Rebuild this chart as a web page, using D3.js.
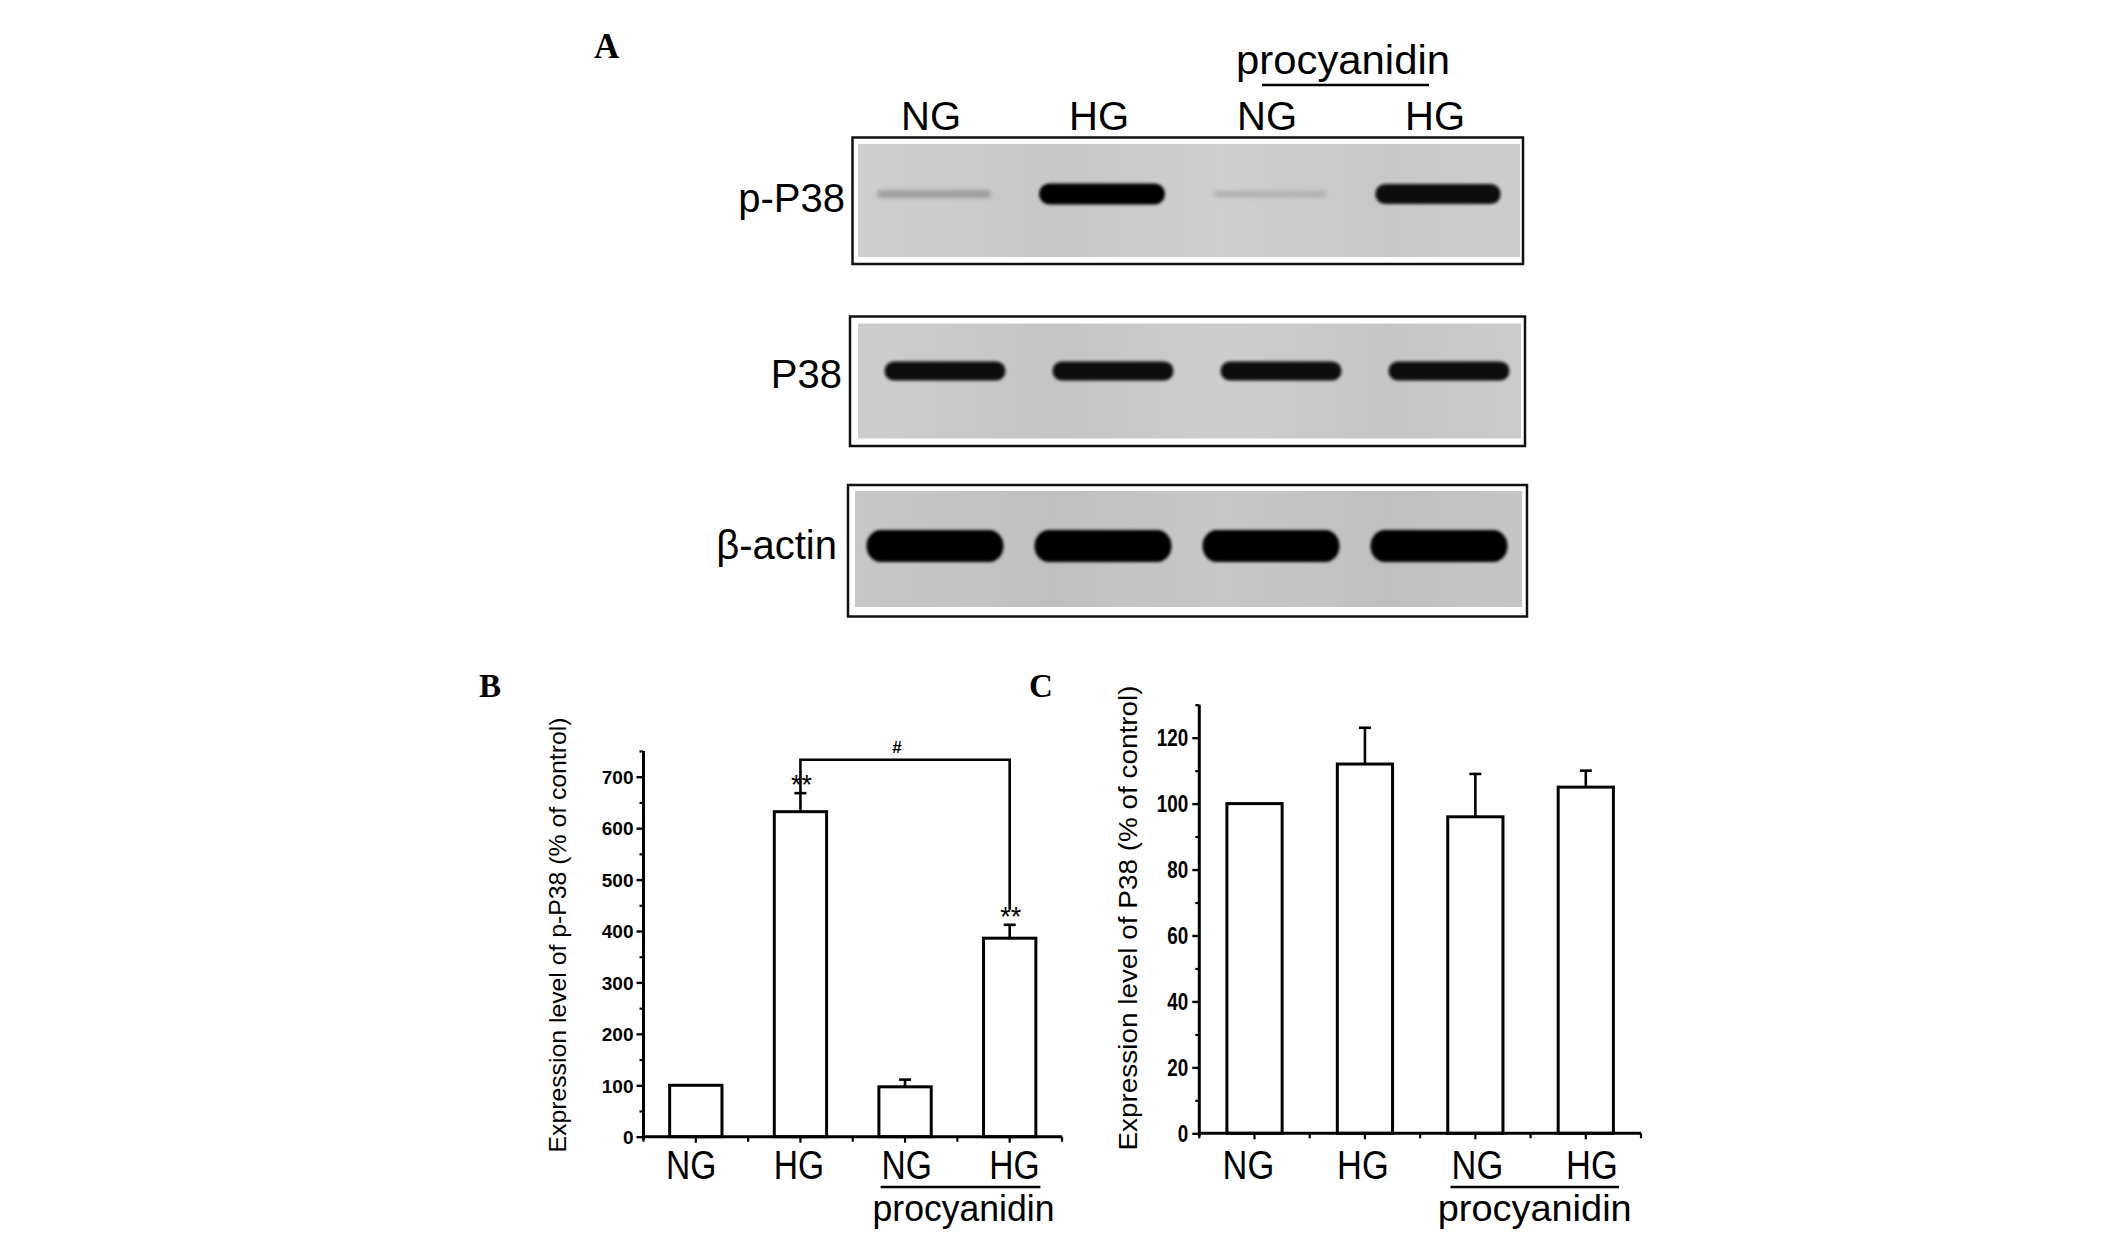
<!DOCTYPE html>
<html><head><meta charset="utf-8">
<script src="https://cdn.jsdelivr.net/npm/d3@7"></script>
<style>body{margin:0;background:#fff}svg{display:block}</style>
</head><body>
<svg id="fig" width="2126" height="1241"></svg>
<script>
// ---------------- data ----------------
const groups = ["NG", "HG", "NG", "HG"];
const treatmentLabel = "procyanidin";
const treatedGroups = [2, 3];
const blotRows = ["p-P38", "P38", "β-actin"];
const bandPP38 = [0.22, 1.0, 0.13, 0.95];
const bandP38 = [0.95, 0.95, 0.95, 0.95];
const bandActin = [1.0, 1.0, 1.0, 1.0];
const pP38Means = [100, 632, 97, 386];
const pP38Errors = [0, 36, 14, 26];
const pP38Stars = ["", "**", "", "**"];
const pP38Ticks = [0, 100, 200, 300, 400, 500, 600, 700];
const pP38Max = 750;
const pP38Compare = { from: 1, to: 3, level: 733, label: "#" };
const p38Means = [100, 112, 96, 105];
const p38Errors = [0, 11, 13, 5];
const p38Ticks = [0, 20, 40, 60, 80, 100, 120];
const p38Max = 130;
const titleB = "Expression level of p-P38  (% of control)";
const titleC = "Expression level of P38  (% of control)";

// ---------------- setup ----------------
const svg = d3.select("#fig");
const SANS = "'Liberation Sans', Arial, Helvetica, sans-serif";
const SERIF = "'Liberation Serif', 'Times New Roman', serif";
const defs = svg.append("defs");
defs.append("filter").attr("id", "blur").attr("x", "-10%").attr("y", "-60%").attr("width", "120%").attr("height", "220%")
  .append("feGaussianBlur").attr("stdDeviation", 1.4);
defs.append("filter").attr("id", "blur2").attr("x", "-10%").attr("y", "-80%").attr("width", "120%").attr("height", "260%")
  .append("feGaussianBlur").attr("stdDeviation", 2.2);

function panelLetter(t, x, y, size) {
  svg.append("text").attr("x", x).attr("y", y).text(t)
    .attr("font-family", SERIF).attr("font-weight", "bold").attr("font-size", size).attr("fill", "#000");
}
panelLetter("A", 594, 58, 35);
panelLetter("B", 479, 697, 33);
panelLetter("C", 1029, 697, 33);

// ---------------- panel A: western blots ----------------
const laneX = d3.scalePoint().domain(d3.range(groups.length)).range([937, 1441]);

const gA = svg.append("g");
gA.selectAll("text.lane").data(groups).join("text").attr("class", "lane")
  .attr("x", (d, i) => laneX(i) - 6).attr("y", 130)
  .attr("text-anchor", "middle").attr("font-family", SANS).attr("font-size", 40).text(d => d);
gA.append("text").attr("x", 1343).attr("y", 74).attr("text-anchor", "middle")
  .attr("font-family", SANS).attr("font-size", 41).attr("textLength", 214).attr("lengthAdjust", "spacingAndGlyphs")
  .text(treatmentLabel);
gA.append("line").attr("x1", 1262).attr("x2", 1429).attr("y1", 85).attr("y2", 85)
  .attr("stroke", "#000").attr("stroke-width", 2.5);

const blotLayout = [
  { outer: [852.5, 137.5, 1523, 264], inner: [858, 144, 1520, 257], bg: "#cbcbcb", y: 194, w: 126, thick: 21, dx: -3, label: [845, 212], values: bandPP38, thin: true },
  { outer: [850, 316.5, 1525, 446], inner: [858, 323.5, 1521, 438.5], bg: "#c9c9c9", y: 371, w: 121, thick: 19, dx: 8, label: [842, 388], values: bandP38, thin: false },
  { outer: [848, 485, 1527, 616.5], inner: [855, 491, 1522, 607], bg: "#c3c3c3", y: 546, w: 137, thick: 32, dx: -2, label: [837, 559], values: bandActin, thin: false }
];

blotLayout.forEach((b, r) => {
  const g = gA.append("g");
  g.append("rect").attr("x", b.outer[0]).attr("y", b.outer[1])
    .attr("width", b.outer[2] - b.outer[0]).attr("height", b.outer[3] - b.outer[1])
    .attr("fill", "#fff").attr("stroke", "#111").attr("stroke-width", 2.5);
  const gid = "bg" + r;
  const lg = defs.append("linearGradient").attr("id", gid).attr("x1", 0).attr("x2", 1).attr("y1", 0).attr("y2", 0);
  const base = d3.color(b.bg);
  [[0, 0.01], [0.3, -0.01], [0.55, 0.01], [0.8, -0.008], [1, 0.005]].forEach(([o, k]) => {
    lg.append("stop").attr("offset", o).attr("stop-color", k > 0 ? base.brighter(k * 5) : base.darker(-k * 5));
  });
  g.append("rect").attr("x", b.inner[0]).attr("y", b.inner[1])
    .attr("width", b.inner[2] - b.inner[0]).attr("height", b.inner[3] - b.inner[1])
    .attr("fill", `url(#${gid})`);
  const shade = d3.interpolateRgb(b.bg, "#000");
  g.selectAll("rect.band").data(b.values).join("rect").attr("class", "band")
    .each(function (v, i) {
      const t = b.thin ? b.thick * (0.2 + 0.8 * v) : b.thick;
      const w = b.thin ? b.w * (0.88 + 0.12 * v) : b.w;
      d3.select(this).attr("x", laneX(i) + b.dx - w / 2).attr("y", b.y - t / 2)
        .attr("width", w).attr("height", t).attr("rx", Math.min(t / 2, 14)).attr("ry", t / 2)
        .attr("fill", shade(v)).attr("filter", v > 0.5 ? "url(#blur)" : "url(#blur2)");
    });
  g.append("text").attr("x", b.label[0]).attr("y", b.label[1]).attr("text-anchor", "end")
    .attr("font-family", SANS).attr("font-size", 40).text(blotRows[r]);
});

// ---------------- bar panels ----------------
function barPanel(o) {
  const g = svg.append("g");
  const x = d3.scaleBand().domain(d3.range(groups.length)).range([o.x0, o.x1]).paddingInner(0).paddingOuter(0);
  const y = d3.scaleLinear().domain([0, o.max]).range([o.yb, o.yt]);
  const barW = x.bandwidth() * 0.5;
  const cx = i => x(i) + x.bandwidth() / 2;

  g.selectAll("rect.bar").data(o.means).join("rect").attr("class", "bar")
    .attr("x", (d, i) => cx(i) - barW / 2).attr("y", d => y(d))
    .attr("width", barW).attr("height", d => y(0) - y(d))
    .attr("fill", "#fff").attr("stroke", "#000").attr("stroke-width", 3);

  o.means.forEach((m, i) => {
    const e = o.errors[i];
    if (!e) return;
    g.append("line").attr("x1", cx(i)).attr("x2", cx(i)).attr("y1", y(m)).attr("y2", y(m + e))
      .attr("stroke", "#000").attr("stroke-width", 2.6);
    g.append("line").attr("x1", cx(i) - 6).attr("x2", cx(i) + 6).attr("y1", y(m + e)).attr("y2", y(m + e))
      .attr("stroke", "#000").attr("stroke-width", 2.6);
  });

  const yAxis = d3.axisLeft(y).tickValues(o.ticks).tickSize(7).tickSizeOuter(0).tickFormat(d3.format("d"));
  const ya = g.append("g").attr("transform", `translate(${o.x0},0)`).call(yAxis);
  ya.select(".domain").remove();
  ya.selectAll("line").attr("stroke", "#000").attr("stroke-width", 2.4);
  ya.selectAll("text").attr("x", null).attr("dy", null)
    .attr("transform", `translate(${-o.labelGap},${o.tickFont * 0.36}) scale(${o.tickSX},1)`)
    .attr("font-family", SANS).attr("font-weight", "bold").attr("font-size", o.tickFont).attr("fill", "#000");
  const minor = d3.range(o.minorStep, o.max + 0.001, o.minorStep).filter(v => !o.ticks.includes(v));
  const ym = g.append("g").attr("transform", `translate(${o.x0},0)`)
    .call(d3.axisLeft(y).tickValues(minor).tickSize(4).tickSizeOuter(0).tickFormat(""));
  ym.select(".domain").remove();
  ym.selectAll("line").attr("stroke", "#000").attr("stroke-width", 2.2);
  g.append("line").attr("x1", o.x0).attr("x2", o.x0).attr("y1", y(o.max)).attr("y2", y(0) + 3)
    .attr("stroke", "#000").attr("stroke-width", 3);

  const xa = g.append("g").attr("transform", `translate(0,${y(0)})`)
    .call(d3.axisBottom(x).tickSize(6).tickSizeOuter(0).tickFormat(""));
  xa.select(".domain").remove();
  xa.selectAll("line").attr("stroke", "#000").attr("stroke-width", 2.2);
  const bounds = d3.range(groups.length + 1).map(i => o.x0 + i * x.step());
  g.selectAll("line.minorx").data(bounds).join("line").attr("class", "minorx")
    .attr("x1", d => d).attr("x2", d => d).attr("y1", y(0)).attr("y2", y(0) + 5)
    .attr("stroke", "#000").attr("stroke-width", 2.2);
  g.append("line").attr("x1", o.x0).attr("x2", o.x1).attr("y1", y(0)).attr("y2", y(0))
    .attr("stroke", "#000").attr("stroke-width", 3);

  const mid = (o.x0 + o.x1) / 2;
  const lx = i => mid + (cx(i) - mid) * o.labelSpread;
  g.selectAll("text.cat").data(groups).join("text").attr("class", "cat")
    .attr("transform", (d, i) => `translate(${lx(i)},${o.catBase}) scale(0.84,1)`)
    .attr("text-anchor", "middle").attr("font-family", SANS).attr("font-size", o.catFont).text(d => d);
  const ux0 = lx(treatedGroups[0]) - o.underHalf, ux1 = lx(treatedGroups[treatedGroups.length - 1]) + o.underHalf;
  g.append("line").attr("x1", ux0).attr("x2", ux1).attr("y1", o.catBase + 8).attr("y2", o.catBase + 8)
    .attr("stroke", "#000").attr("stroke-width", 2.5);
  g.append("text").attr("x", (ux0 + ux1) / 2 + o.procDx).attr("y", o.catBase + 42)
    .attr("text-anchor", "middle").attr("font-family", SANS).attr("font-size", o.procFont)
    .attr("textLength", o.procLen).attr("lengthAdjust", "spacingAndGlyphs").text(treatmentLabel);

  g.append("text").attr("transform", `translate(${o.titleX},${o.titleMid}) rotate(-90)`)
    .attr("text-anchor", "middle").attr("font-family", SANS).attr("font-size", o.titleFont)
    .attr("textLength", o.titleLen).attr("lengthAdjust", "spacingAndGlyphs").text(o.title);

  return { g, x, y, cx };
}

const B = barPanel({
  x0: 643.5, x1: 1062, yb: 1136.7, yt: 751, max: pP38Max, means: pP38Means, errors: pP38Errors,
  ticks: pP38Ticks, minorStep: 50, tickFont: 19, tickSX: 1, labelGap: 10,
  catBase: 1179, catFont: 40, labelSpread: 1.03, underHalf: 26, procFont: 37, procLen: 182, procDx: 3,
  title: titleB, titleX: 566, titleMid: 935, titleFont: 24, titleLen: 435
});
const C = barPanel({
  x0: 1199.3, x1: 1641, yb: 1133.3, yt: 704.7, max: p38Max, means: p38Means, errors: p38Errors,
  ticks: p38Ticks, minorStep: 10, tickFont: 23, tickSX: 0.82, labelGap: 11,
  catBase: 1179, catFont: 41, labelSpread: 1.037, underHalf: 27, procFont: 37, procLen: 194, procDx: 0,
  title: titleC, titleX: 1137, titleMid: 918, titleFont: 25, titleLen: 465
});

pP38Stars.forEach((s, i) => {
  if (!s) return;
  B.g.append("text").attr("x", B.cx(i) + 1).attr("y", B.y(pP38Means[i] + pP38Errors[i]) + 1)
    .attr("text-anchor", "middle").attr("font-family", SANS).attr("font-size", 27).text(s);
});
const cmpY = B.y(pP38Compare.level);
const fx = B.cx(pP38Compare.from), tx = B.cx(pP38Compare.to);
const leftEnd = B.y(pP38Means[pP38Compare.from] + pP38Errors[pP38Compare.from]);
const rightEnd = B.y(pP38Means[pP38Compare.to] + pP38Errors[pP38Compare.to]) - 15;
B.g.append("path").attr("d", `M${fx},${leftEnd}V${cmpY}H${tx}V${rightEnd}`)
  .attr("fill", "none").attr("stroke", "#000").attr("stroke-width", 2.6);
B.g.append("text").attr("x", (fx + tx) / 2 - 8).attr("y", cmpY - 7).attr("text-anchor", "middle")
  .attr("font-family", SANS).attr("font-weight", "bold").attr("font-size", 17).text(pP38Compare.label);
</script>
</body></html>
